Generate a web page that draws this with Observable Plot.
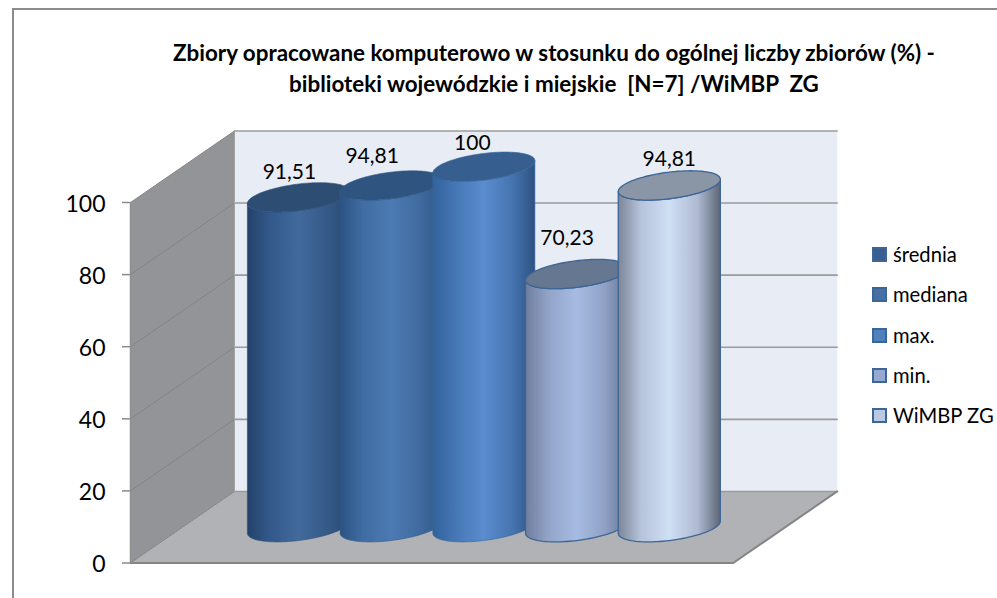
<!DOCTYPE html>
<html>
<head>
<meta charset="utf-8">
<script src="https://cdn.jsdelivr.net/npm/d3@7"></script>
<script src="https://cdn.jsdelivr.net/npm/@observablehq/plot@0.6"></script>
<style>
html,body{margin:0;padding:0;background:#fff;}
#page{position:relative;width:997px;height:598px;overflow:hidden;font-family:Lato,sans-serif;color:#000;}
#frame{position:absolute;left:12px;top:8px;width:1000px;height:600px;border:2px solid #8c8c8c;box-sizing:border-box;}
#chart{position:absolute;left:0;top:0;}
#chart svg{display:block;}
#title{position:absolute;left:0;width:1108px;top:37px;text-align:center;font-weight:700;font-size:22.4px;line-height:31px;white-space:nowrap;}
#legend{position:absolute;left:872px;top:244px;font-size:20.2px;}
.item{position:absolute;left:0;height:20px;line-height:20px;white-space:nowrap;}
.item i{position:absolute;left:0;top:3px;width:15px;height:15px;box-sizing:border-box;border:2px solid #3d6596;}
.item span{position:absolute;left:21px;top:0;}
</style>
</head>
<body>
<div id="page">
  <div id="frame"></div>
  <div id="chart"></div>
  <div id="title"></div>
  <div id="legend"></div>
</div>
<script>
// Data
const titleLines = ["Zbiory opracowane komputerowo w stosunku do ogólnej liczby zbiorów (%) -", "biblioteki wojewódzkie i miejskie  [N=7] /WiMBP  ZG"];
const seriesNames = ["średnia", "mediana", "max.", "min.", "WiMBP ZG"];
const seriesValues = [91.51, 94.81, 100, 70.23, 94.81];
const valueLabels = ["91,51", "94,81", "100", "70,23", "94,81"];
const yTicks = [0, 20, 40, 60, 80, 100];

// Appearance
const gradients = [
  ["#22426a", "#33588a", "#416a9c", "#365a88", "#274870"],
  ["#2c5282", "#3f6ca2", "#4c7ab2", "#3f6ba0", "#2e5685"],
  ["#33629b", "#4677b5", "#5a8ccf", "#4674b0", "#2d5280"],
  ["#6f7e9e", "#92a3c8", "#a7bce3", "#8fa0c4", "#66748f"],
  ["#7d8696", "#b5c3dc", "#cfdff4", "#aeb9d2", "#5d6676"]
];
const capColors = ["#2d4d73", "#305480", "#365f90", "#667791", "#8a95a6"];
const legendColors = ["#375f92", "#4470a6", "#4f81bd", "#95a9d0", "#b9c9e2"];
const strokeColors = ["#2d5078", "#315a8a", "#38659b", "#3d6596", "#3d6596"];
const strokeWidths = [0.6, 0.6, 0.6, 1.3, 1.3];
const labelNudge = [[-9, -25], [-19, -29], [-11.5, -23], [-9.5, -36], [0, -26]];

// Oblique projection: x in category widths, y in percent, d in chart depth
const DX = 104 / 602.7, DY = 19.85;
const gap = 1.5, barW = 1 / (seriesNames.length + gap);
const depthR = 0.205, depthC = 0.5;
const P = (c, v, d) => ({x: c + d * DX, y: v + d * DY});
const center = i => (i + 0.5 + gap / 2) * barW;
const ring = (i, v, t) => P(center(i) + barW / 2 * Math.cos(t), v, depthC + depthR * Math.sin(t));
const steps = d3.range(0, 49).map(k => k / 48);
const frontArc = (i, v) => steps.map(s => ring(i, v, Math.PI + Math.atan2(depthR * DX, barW / 2) + s * Math.PI));
const ellipse = (i, v) => d3.range(0, 97).map(k => ring(i, v, k / 96 * 2 * Math.PI));
const body = (i, v) => [...frontArc(i, v), ...frontArc(i, 0).reverse(), frontArc(i, v)[0]];

const wallBack = [P(0,0,1), P(1,0,1), P(1,100,1), P(0,100,1), P(0,0,1)];
const wallLeft = [P(0,0,0), P(0,0,1), P(0,100,1), P(0,100,0), P(0,0,0)];
const floor = [P(0,0,0), P(1,0,0), P(1,0,1), P(0,0,1), P(0,0,0)];
const gridBack = yTicks.map(v => [P(0,v,1), P(1,v,1)]);
const gridLeft = yTicks.map(v => [P(0,v,0), P(0,v,1)]);

const defs = () => {
  const d = d3.create("svg:defs");
  gradients.forEach((stops, i) => {
    const g = d.append("linearGradient").attr("id", "bar" + i).attr("x1", 0).attr("x2", 1).attr("y1", 0).attr("y2", 0);
    [0, 0.22, 0.5, 0.78, 1].forEach((o, j) => g.append("stop").attr("offset", o).attr("stop-color", stops[j]));
  });
  return d.node();
};
const grid = "#9b9b9b";
const poly = (pts, o) => Plot.line(pts, {x: "x", y: "y", curve: "linear", ...o});

const plot = Plot.plot({
  width: 997, height: 598,
  marginLeft: 130, marginRight: 264.3, marginTop: 202, marginBottom: 35.5,
  x: {domain: [0, 1], axis: null},
  y: {domain: [0, 100]},
  style: {background: "transparent", fontFamily: "Lato, sans-serif"},
  marks: [
    defs,
    poly(wallBack, {fill: "#e8ecf5", stroke: "none"}),
    poly(wallLeft, {fill: "#939497", stroke: "none"}),
    poly(floor, {fill: "#b0b2b5", stroke: "none"}),
    ...gridBack.map(g => poly(g, {stroke: grid, strokeWidth: 1.6})),
    ...gridLeft.map(g => poly(g, {stroke: "#848484", strokeWidth: 1})),
    poly([P(0,0,1), P(0,100,1)], {stroke: "#a3a3a3", strokeWidth: 1}),
    poly([P(0,0,0), P(1,0,0), P(1,0,1)], {stroke: "#858585", strokeWidth: 2}),
    poly([P(0,0,0), P(0,100,0)], {stroke: "#8f8f8f", strokeWidth: 1.5}),
    Plot.axisY({ticks: yTicks, tickSize: 8, text: null, stroke: "#8a8a8a", strokeWidth: 1.5, label: null}),
    Plot.axisY({ticks: yTicks, tickSize: 0, tickPadding: 25, dy: 2, fontSize: 23, label: null, fill: "#000"}),
    ...seriesValues.flatMap((v, i) => [
      poly(body(i, v), {fill: `url(#bar${i})`, stroke: strokeColors[i], strokeWidth: strokeWidths[i]}),
      poly(ellipse(i, v), {fill: capColors[i], stroke: strokeColors[i], strokeWidth: strokeWidths[i]})
    ]),
    ...seriesValues.map((v, i) => {
      const p = P(center(i), v, depthC);
      return Plot.text([valueLabels[i]], {x: () => p.x, y: () => p.y, text: d => d, dx: labelNudge[i][0], dy: labelNudge[i][1], fontSize: 21, fill: "#000"});
    })
  ]
});
document.getElementById("chart").appendChild(plot);

document.getElementById("title").innerHTML = titleLines.map(t => `<div style="white-space:pre">${t}</div>`).join("");
document.getElementById("legend").innerHTML = seriesNames.map((n, i) =>
  `<div class="item" style="top:${i * 40.3}px"><i style="background:${legendColors[i]}"></i><span>${n}</span></div>`).join("");
</script>
</body>
</html>
